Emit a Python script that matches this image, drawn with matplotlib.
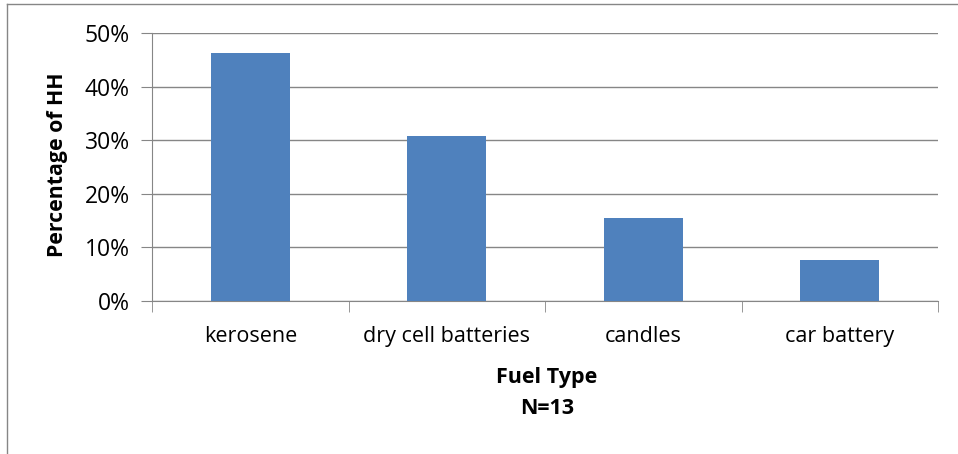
import matplotlib.pyplot as plt
from matplotlib.ticker import PercentFormatter
from matplotlib.lines import Line2D

categories = ["kerosene", "dry cell batteries", "candles", "car battery"]
shares = [46.2, 30.8, 15.4, 7.7]
y_ticks = [0, 10, 20, 30, 40, 50]

plt.rcParams["font.family"] = ["Open Sans", "DejaVu Sans"]

W, H = 958, 454
fig = plt.figure(figsize=(W / 100, H / 100), dpi=100)
ax = fig.add_axes([152 / W, 1 - 301 / H, (938 - 152) / W, (301 - 33) / H])

x = range(len(categories))
ax.bar(x, shares, width=0.4, color="#4f81bd", zorder=3)
ax.set_xlim(-0.5, len(categories) - 0.5)
ax.set_ylim(0, 50)
ax.set_yticks(y_ticks)
ax.yaxis.set_major_formatter(PercentFormatter(decimals=0))
ax.set_xticks(x)
ax.set_xticklabels(categories, fontsize=15.5)
ax.set_xticks([i - 0.5 for i in range(len(categories) + 1)], minor=True)
ax.tick_params(axis="x", which="major", length=0, pad=18)
ax.tick_params(axis="x", which="minor", length=8, color="#868686", direction="out")
ax.tick_params(axis="y", length=8, color="#868686", labelsize=16.5, pad=8)

ax.grid(axis="y", color="#868686", linewidth=1, zorder=0)
for side in ["top", "right"]:
    ax.spines[side].set_visible(False)
for side in ["left", "bottom"]:
    ax.spines[side].set_color("#868686")

fig.text(58 / W, 1 - 165 / H, "Percentage of HH", rotation=90, ha="center", va="center",
         fontsize=15.3, fontweight="bold")
fig.text(547 / W, 1 - 378 / H, "Fuel Type", ha="center", va="center", fontsize=15.5, fontweight="bold")
fig.text(547 / W, 1 - 408 / H, "N=13", ha="center", va="center", fontsize=15.5, fontweight="bold")

# outer chart border (top and left edges visible)
fig.add_artist(Line2D([7 / W, 7 / W], [0, 1 - 4 / H], transform=fig.transFigure, color="#868686", lw=1))
fig.add_artist(Line2D([7 / W, 1], [1 - 4 / H, 1 - 4 / H], transform=fig.transFigure, color="#868686", lw=1))

fig.savefig("out.png", dpi=100)
